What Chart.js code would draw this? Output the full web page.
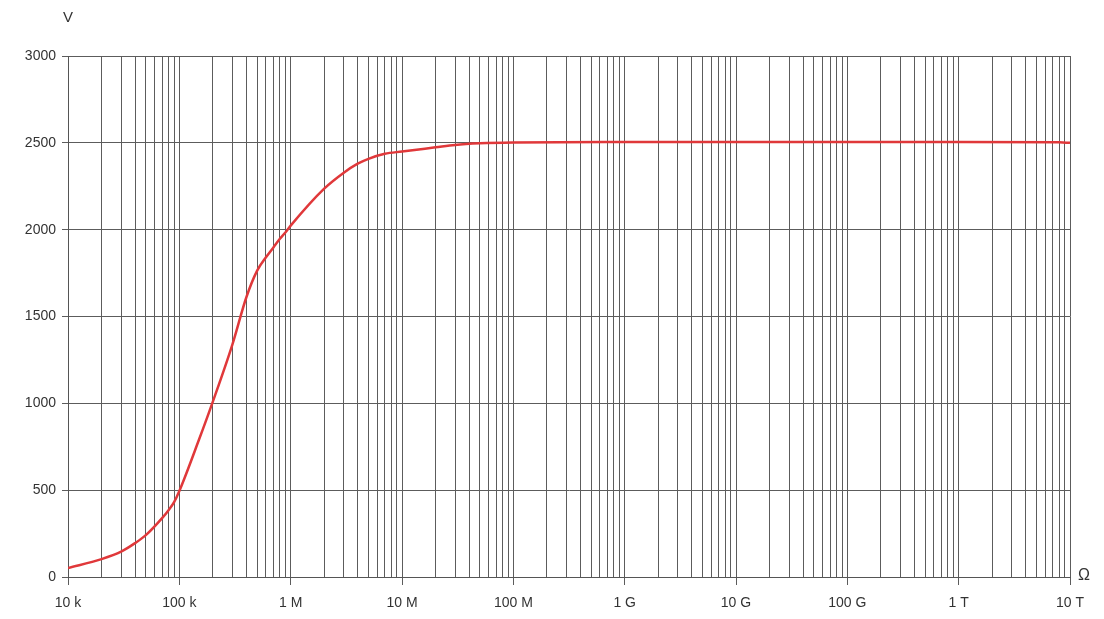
<!DOCTYPE html>
<html><head><meta charset="utf-8">
<script src="https://cdn.jsdelivr.net/npm/chart.js@4/dist/chart.umd.min.js"></script>
<style>html,body{margin:0;padding:0;background:#fff}#wrap{width:1104px;height:619px}</style>
</head><body><div id="wrap"><canvas id="c" width="1104" height="619"></canvas></div>
<script>
const resistance = [1e4, 2e4, 3e4, 4e4, 5e4, 7e4, 8e4, 9e4, 1e5, 1.5e5, 2e5, 3e5, 4e5, 5e5, 6e5, 7e5, 8e5, 9e5, 1e6, 2e6, 3e6, 4e6, 5e6, 7e6, 1e7, 2e7, 3e7, 5e7, 1e8, 1e9, 1e10, 1e11, 1e12, 8e12, 1e13];
const voltage = [52, 103, 146, 195, 241, 339, 385, 433, 495, 790, 1010, 1340, 1611, 1764, 1841, 1898, 1948, 1985, 2023, 2236, 2328, 2380, 2408, 2437, 2450, 2474, 2488, 2497, 2502, 2505, 2505, 2505, 2505, 2503, 2500];
const decades = [1e4, 1e5, 1e6, 1e7, 1e8, 1e9, 1e10, 1e11, 1e12, 1e13];
const decadeLabels = ['10 k', '100 k', '1 M', '10 M', '100 M', '1 G', '10 G', '100 G', '1 T', '10 T'];
const yTicks = [0, 500, 1000, 1500, 2000, 2500, 3000];
const yUnit = 'V';
const xUnit = 'Ω';

const isMajor = v => decades.some(d => Math.abs(v / d - 1) < 1e-6);

const unitPlugin = {
  id: 'units',
  afterDraw(chart) {
    const ctx = chart.ctx, a = chart.chartArea;
    ctx.save();
    ctx.fillStyle = '#333';
    ctx.font = '15px "Liberation Sans", Arial, sans-serif';
    ctx.textAlign = 'center';
    ctx.textBaseline = 'middle';
    ctx.fillText(yUnit, a.left, 18);
    ctx.font = '16px "Liberation Sans", Arial, sans-serif';
    ctx.textAlign = 'left';
    ctx.fillText(xUnit, a.right + 8, a.bottom - 1);
    ctx.restore();
  }
};

new Chart(document.getElementById('c'), {
  type: 'line',
  data: {
    datasets: [{
      data: resistance.map((x, i) => ({x, y: voltage[i]})),
      borderColor: '#e0383a',
      borderWidth: 2.5,
      pointRadius: 0,
      cubicInterpolationMode: 'monotone',
      fill: false
    }]
  },
  options: {
    responsive: false,
    animation: false,
    layout: {padding: {top: 56, right: 34, left: 0, bottom: 0}},
    plugins: {legend: {display: false}, tooltip: {enabled: false}},
    scales: {
      x: {
        type: 'logarithmic',
        min: 1e4, max: 1e13,
        afterBuildTicks(scale) {
          const t = [];
          for (let k = 0; k < decades.length; k++) {
            for (let m = 1; m <= 9; m++) {
              const v = decades[k] * m;
              if (v <= 1e13 * 1.000001) t.push({value: v});
            }
          }
          scale.ticks = t;
        },
        afterFit(scale) { scale.height = 42; },
        border: {display: true, color: '#555', width: 1},
        grid: {
          color: '#5c5c5c',
          lineWidth: 1,
          drawTicks: true,
          tickLength: 8,
          tickColor: ctx => (ctx.tick && isMajor(ctx.tick.value)) ? '#5c5c5c' : 'rgba(0,0,0,0)'
        },
        ticks: {
          autoSkip: false,
          maxRotation: 0,
          padding: 10,
          color: '#333',
          font: {family: '"Liberation Sans", Arial, sans-serif', size: 14},
          callback(v) {
            const i = decades.findIndex(d => Math.abs(v / d - 1) < 1e-6);
            return i >= 0 ? decadeLabels[i] : '';
          }
        }
      },
      y: {
        type: 'linear',
        min: 0, max: 3000,
        afterBuildTicks(scale) { scale.ticks = yTicks.map(v => ({value: v})); },
        afterFit(scale) { scale.width = 68; },
        border: {display: true, color: '#555', width: 1},
        grid: {color: '#5c5c5c', lineWidth: 1, tickLength: 6, tickColor: '#5c5c5c'},
        ticks: {
          padding: 6,
          color: '#333',
          font: {family: '"Liberation Sans", Arial, sans-serif', size: 14},
          callback: v => String(v)
        }
      }
    }
  },
  plugins: [unitPlugin]
});
</script>
</body></html>
